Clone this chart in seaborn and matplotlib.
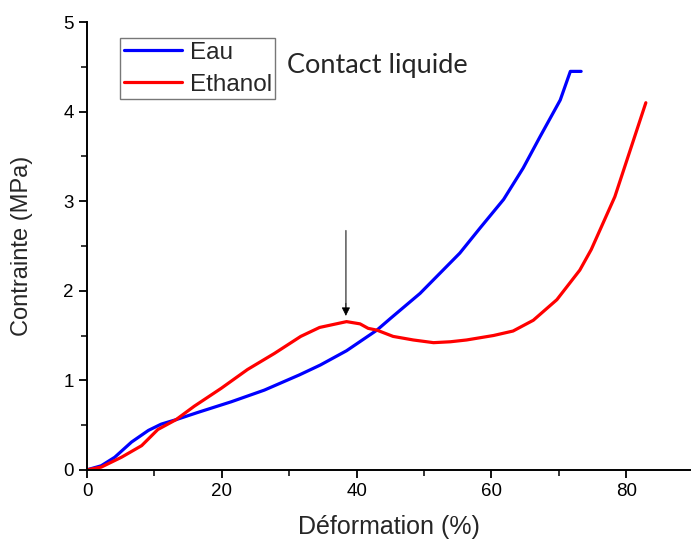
import pandas as pd
import matplotlib.pyplot as plt
import seaborn as sns
from matplotlib.ticker import MultipleLocator

# strain (%) / stress (MPa)
eau_x = [0, 2.1, 4.1, 6.6, 9.1, 11.0, 13.2, 16.4, 21.4, 26.3, 31.5, 34.6,
         38.5, 43, 45.0, 49.4, 55.3, 58.3, 61.8, 64.7, 67.2, 70.2, 71.7, 73.3]
eau_y = [0, 0.045, 0.14, 0.31, 0.44, 0.51, 0.56, 0.64, 0.76, 0.89, 1.06, 1.17,
         1.33, 1.56, 1.69, 1.97, 2.42, 2.70, 3.02, 3.37, 3.72, 4.13, 4.45, 4.45]

eth_x = [0, 2.1, 5.1, 8.1, 10.5, 13.2, 15.9, 19.9, 23.8, 27.8, 31.7, 34.5,
         38.5, 40.5, 41.7, 43, 45.4, 48.4, 51.4, 53.9, 56.3, 60.3, 63.2, 66.2,
         69.7, 73.1, 74.8, 78.3, 82.9]
eth_y = [0, 0.03, 0.14, 0.27, 0.45, 0.56, 0.71, 0.91, 1.12, 1.30, 1.49, 1.59,
         1.655, 1.63, 1.58, 1.56, 1.49, 1.45, 1.42, 1.43, 1.45, 1.5, 1.55,
         1.67, 1.9, 2.23, 2.46, 3.05, 4.1]

df = pd.concat([
    pd.DataFrame({'Déformation': eau_x, 'Contrainte': eau_y, 'Liquide': 'Eau'}),
    pd.DataFrame({'Déformation': eth_x, 'Contrainte': eth_y, 'Liquide': 'Ethanol'}),
])

sns.set_style('ticks')
plt.rcParams['font.family'] = ['Liberation Sans', 'DejaVu Sans']

fig = plt.figure(figsize=(6.91, 5.40), dpi=100)
ax = fig.add_axes([0.126, 0.130, 0.874, 0.829])

sns.lineplot(data=df, x='Déformation', y='Contrainte', hue='Liquide',
             palette={'Eau': '#0000ff', 'Ethanol': '#ff0000'},
             sort=False, estimator=None, linewidth=2.3, ax=ax)
for ln in ax.lines:
    ln.set_solid_joinstyle('round')

ax.set_xlim(0, 89.6)
ax.set_ylim(0, 5)
ax.xaxis.set_major_locator(MultipleLocator(20))
ax.xaxis.set_minor_locator(MultipleLocator(10))
ax.yaxis.set_major_locator(MultipleLocator(1))
ax.yaxis.set_minor_locator(MultipleLocator(0.5))
ax.tick_params(which='major', length=6, width=1.3, labelsize=13.5,
               direction='out', colors='black')
ax.tick_params(which='minor', length=4, width=1.3, direction='out')
for s in ['left', 'bottom']:
    ax.spines[s].set_linewidth(1.4)
    ax.spines[s].set_color('black')
sns.despine(ax=ax)

ax.set_xlabel('Déformation (%)', fontsize=18, labelpad=11)
ax.set_ylabel('Contrainte (MPa)', fontsize=17, labelpad=22)

# arrow marking the ethanol peak: grey shaft, black head
ax.annotate('', xy=(38.4, 1.80), xytext=(38.4, 2.67),
            arrowprops=dict(arrowstyle='-', color='#666666', lw=1.2,
                            shrinkA=0, shrinkB=0))
ax.annotate('', xy=(38.4, 1.72), xytext=(38.4, 1.86),
            arrowprops=dict(arrowstyle='-|>', color='black', lw=0.5,
                            mutation_scale=13, shrinkA=0, shrinkB=0))

leg = ax.legend(loc='upper left', bbox_to_anchor=(0.055, 0.964), fontsize=17.5,
                frameon=True, fancybox=False, handlelength=2.4,
                handletextpad=0.3, borderpad=0.15, labelspacing=0.4,
                borderaxespad=0)
leg.get_frame().set_edgecolor('#555555')
leg.get_frame().set_linewidth(1.0)

ax.text(0.331, 0.904, 'Contact liquide', transform=ax.transAxes,
        fontsize=19.5, family=['Lato', 'DejaVu Sans'], va='center')

fig.savefig('out.png', dpi=100)
